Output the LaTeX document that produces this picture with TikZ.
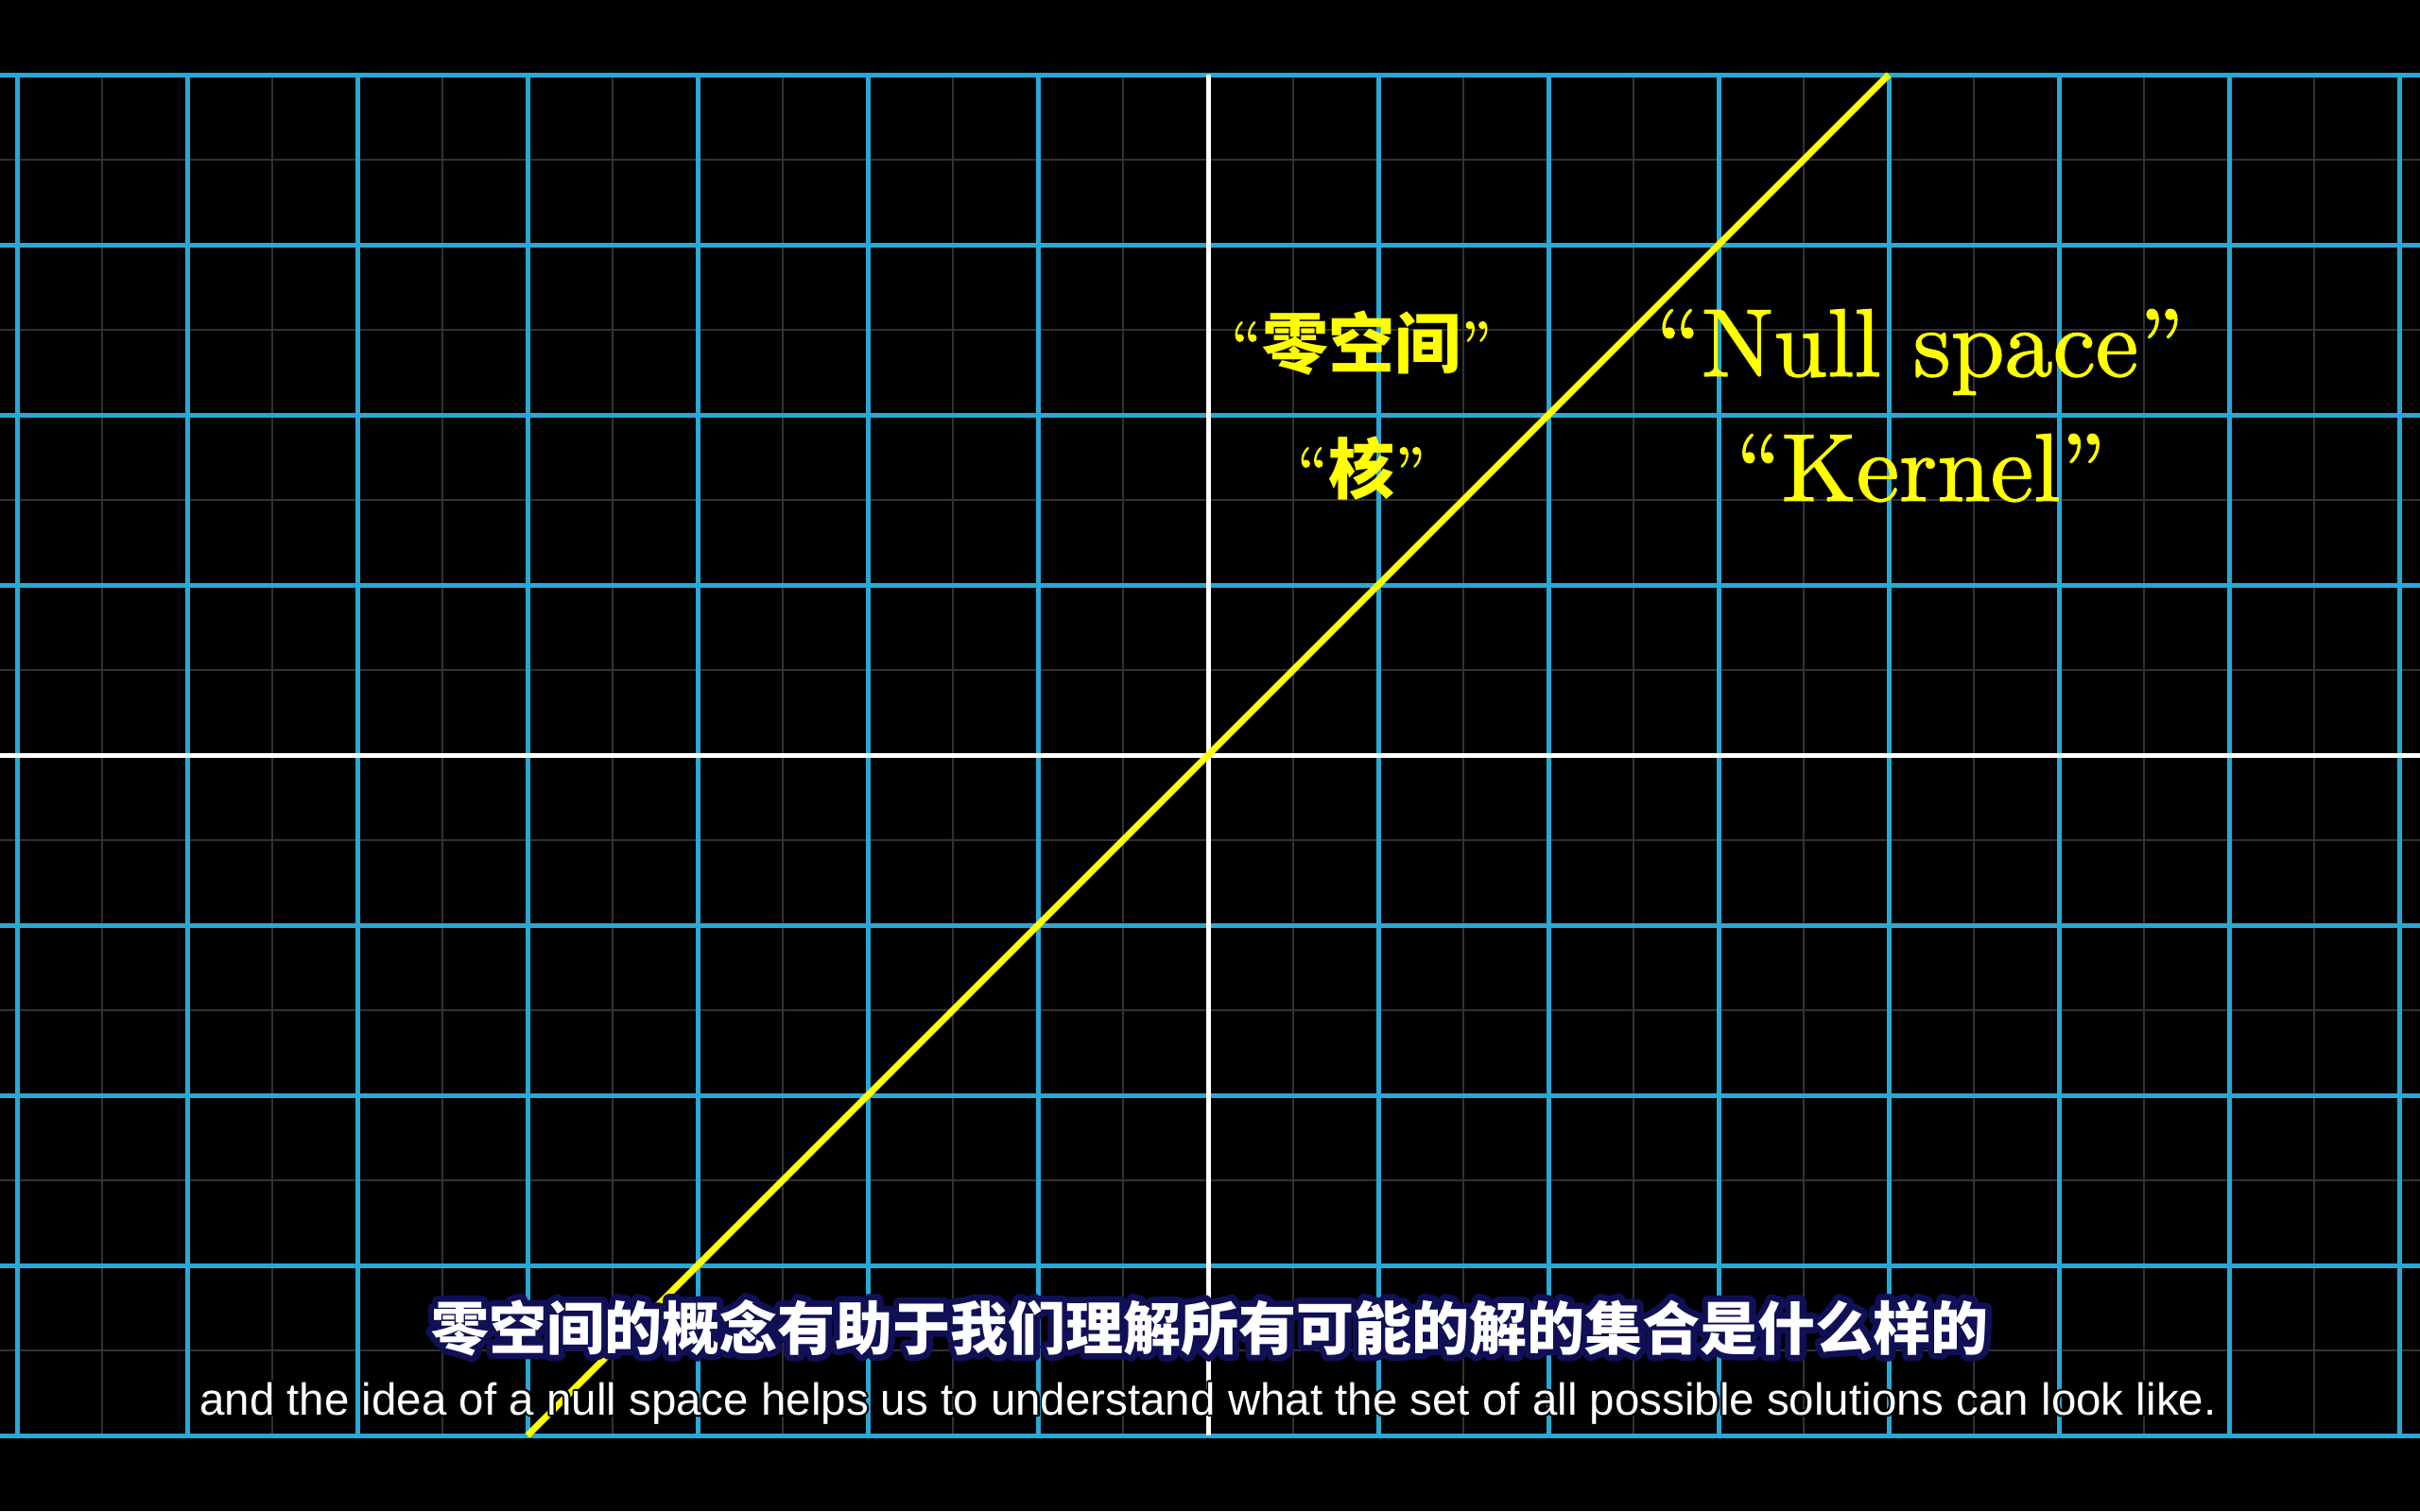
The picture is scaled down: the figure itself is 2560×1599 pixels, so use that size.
\documentclass[tikz,border=0pt]{standalone}
\usepackage{fontspec}
\newfontfamily\cjk{Noto Sans CJK SC}
\newfontfamily\cjkout{Noto Sans CJK SC}[RawFeature={embolden=22}]
\newfontfamily\subfont{Liberation Sans}
\newfontfamily\subfontout{Liberation Sans}[RawFeature={embolden=9}]
\newfontfamily\lmten{lmroman10-regular.otf}[RawFeature={embolden=1.2}]
\definecolor{gridblue}{RGB}{41,168,214}
\definecolor{finegray}{RGB}{50,50,50}
\definecolor{nullyellow}{RGB}{255,255,0}
\definecolor{subnavy}{RGB}{16,16,86}
\tikzset{
  finegrid/.style={draw=finegray, line width=2pt},
  majorgrid/.style={draw=gridblue, line width=5pt},
  axisline/.style={draw=white, line width=5pt},
  nullline/.style={draw=nullyellow, line width=7pt},
  biglabel/.style={text=nullyellow, inner sep=0pt, anchor=base, font=\fontsize{102}{120}\lmten},
  cjklabel/.style={text=nullyellow, inner sep=0pt, anchor=base, font=\fontsize{70}{84}\lmten},
  subzh/.style={text=white, inner sep=0pt, anchor=base, font=\fontsize{61}{74}\selectfont\cjk\bfseries},
  subzhout/.style={text=subnavy, inner sep=0pt, anchor=base, font=\fontsize{61}{74}\selectfont\cjkout\bfseries},
  suben/.style={text=white, inner sep=0pt, anchor=base, font=\fontsize{47.5}{57}\selectfont\subfont},
  subenout/.style={text=black, inner sep=0pt, anchor=base, font=\fontsize{47.5}{57}\selectfont\subfontout}
}
\begin{document}
\begin{tikzpicture}[x=1pt,y=-1pt]
\fill[black] (0,0) rectangle (2560,1599);
\useasboundingbox (0,0) rectangle (2560,1599);
% fine grid
\foreach \x in {108,288,...,2448} \draw[finegrid] (\x,79) -- (\x,1519);
\foreach \y in {169,349,...,1429} \draw[finegrid] (0,\y) -- (2560,\y);
% major grid
\foreach \x in {18,198,...,2538} \draw[majorgrid] (\x,79) -- (\x,1519);
\foreach \y in {79,259,...,1519} \draw[majorgrid] (0,\y) -- (2560,\y);
% axes
\coordinate (ytop) at (1278,79);
\coordinate (ybot) at (1278,1519);
\coordinate (xl) at (0,799);
\coordinate (xr) at (2560,799);
\draw[axisline] (ytop) -- (ybot);
\draw[axisline] (xl) -- (xr);
% null space line
\coordinate (O) at (1278,799);
\coordinate (P) at (1998,79);
\coordinate (Q) at (558,1519);
\draw[nullline] (Q) -- (O) -- (P);
% labels
\begin{scope}[line join=round, line cap=round]
\node[biglabel] (ns) at (2031,398) {“Null space”};
\node[biglabel] (ker) at (2032,530) {“Kernel”};
\node[cjklabel] (lzk) at (1440,389) {“{\cjk\bfseries 零空间}”};
\node[cjklabel] (lhe) at (1440,522) {“{\cjk\bfseries 核}”};
% subtitles: outline layer, then fill layer
\node[subzhout] (zho) at (1280,1428) {零空间的概念有助于我们理解所有可能的解的集合是什么样的};
\node[subzh] (zh) at (zho.base) {零空间的概念有助于我们理解所有可能的解的集合是什么样的};
\node[subenout] (eno) at (1278,1497) {and the idea of a null space helps us to understand what the set of all possible solutions can look like.};
\node[suben] (en) at (eno.base) {and the idea of a null space helps us to understand what the set of all possible solutions can look like.};
\end{scope}
\end{tikzpicture}
\end{document}
